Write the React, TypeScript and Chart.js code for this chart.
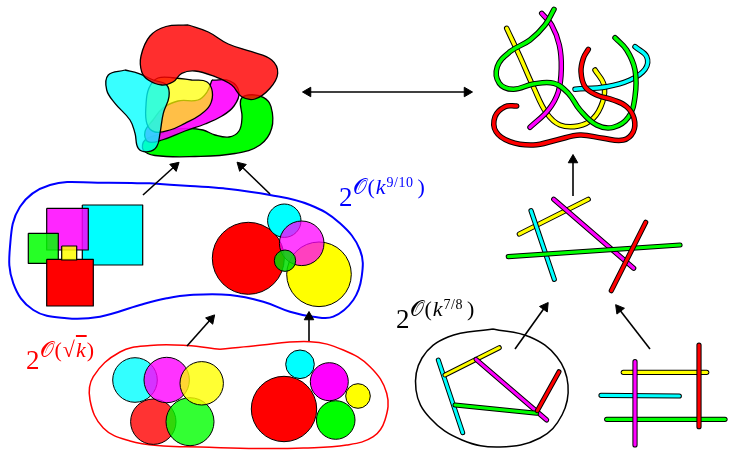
import React, { useEffect, useRef } from "react";
import { Chart, registerables } from "chart.js";
Chart.register(...registerables);

type P = [number, number];

// ---------- top-left blobs ----------
const blobGreen: P[] = [[168,130],[161.7,133.3],[145,140],[143.3,150],[155,155.5],[195,156.5],[235,153.5],[260,145],[271.7,128.3],[271,106.7],[263.3,97.3],[248.3,95],[240.7,100],[242,117],[239,131],[229,137],[215,135],[203,130],[188.3,128.3]];
const blobMagenta: P[] = [[212,80],[230,81],[239,92],[234,106],[222,116],[205,124],[185,131],[162,140],[148,141.7],[145,131.7],[153,120],[163,108],[178,101],[198,100],[207,92]];
const blobYellow: P[] = [[191.7,80],[206.7,81.7],[212.3,91.7],[210,105],[200,115],[185,123.3],[170,130],[155,132],[147,124],[146,105],[149,88],[158,78],[175,78]];
const blobCyan: P[] = [[125,70],[138.3,73.3],[153.3,80],[166.7,85],[169,96.7],[163.3,113.3],[160,133.3],[156.7,146.7],[148.3,151.7],[138.3,148.3],[135,133.3],[130,120],[115,103.3],[106.7,90],[108.3,75]];
const blobRed: P[] = [[188.3,25],[208.3,32],[228.3,44],[251.7,51.7],[271.7,60],[277.7,73.3],[270,88.3],[255,99],[241.7,96.7],[231.7,85],[215,76.7],[195,71],[181.7,73.3],[173.3,81.7],[161.7,85],[148.3,80],[141.7,71.7],[141,56],[150,36],[166,26.5]];

// ---------- top-right tubes ----------
const tubeYellow: P[] = [[506.7,28.3],[520,56.7],[533.3,86.7],[546.7,113.3],[560,125],[578.3,126],[593.3,118.3],[602.7,101.7],[604,85],[595,70]];
const tubeMagenta: P[] = [[541.7,13.3],[551.7,25],[559.3,45],[561.3,68.3],[558.3,91.7],[548.3,110],[530,127.3]];
const tubeCyan: P[] = [[575,89.3],[606.7,86.7],[630,80],[645,69.3],[646.7,56.7],[635,46.7]];
const tubeGreen: P[] = [[554,9.3],[545,25],[530,40],[510,51.7],[497.3,66.7],[499.3,83.3],[513.3,89.3],[533.3,84],[554,83.3],[568.3,93.3],[580,110],[596.7,125],[613.3,127.3],[628.3,117.3],[635,96.7],[635,70],[626.7,50],[615,37.7]];
const tubeRed: P[] = [[516.7,106],[505,106.7],[495,116.7],[496,131.7],[510,141.7],[533.3,145],[556.7,140],[580,135],[603.3,138.3],[623.3,140],[633.3,131.7],[634,118.3],[626.7,106.7],[613.3,100],[596.7,95],[585,86.7],[581,71.7],[583.3,58.3],[588.3,49.3]];

// ---------- regions ----------
const blueRegion: P[] = [[150,183.3],[190,186],[223.3,188.3],[270,195],[310,205],[340,223.3],[360,250],[361.7,276.7],[353.3,300],[333.3,316.7],[313.3,316.7],[290,311.7],[263.3,301.7],[230,295],[190,295],[166.7,298.3],[140,305],[100,316.7],[66.7,318.3],[33.3,310],[13.3,283.3],[10,246.7],[20,206.7],[50,185],[100,182.7]];
const redRegion: P[] = [[220,349.3],[253.3,346],[310,341.7],[343.3,350],[370,366.7],[386.7,393.3],[385,420],[373.3,436.7],[346.7,445],[303.3,448],[256.7,448.5],[200,447],[163.3,446],[130,441],[103.3,428],[90,400],[93.3,376.7],[120,352],[150,345.5],[186.7,345.5]];
const ellipseRegion: P[] = [[493,329],[530,337],[557,357],[568,385],[562,415],[540,438],[500,447],[462,440],[430,418],[416,390],[422,358],[448,337]];

// ---------- squares [x1, y1, x2, y2] ----------
const squareCyan = [82.3,205,142.7,265];
const squareMagenta = [46.7,208.3,88.3,250];
const squareGreen = [28.3,233.3,58.3,263.3];
const squareRed = [46.7,259.3,93.3,306];
const squareYellow = [61.7,246,76.7,260];

// ---------- circles [x, y, r] ----------
const discsBlue = [
  { c: [248.3,258.3,36], col: "#ff0000" },
  { c: [284.3,220.7,16.7], col: "#00ffff" },
  { c: [319,274.3,32.3], col: "#ffff00" },
  { c: [301.7,243.3,22.3], col: "rgba(255,0,255,0.75)" },
  { c: [285,260.7,10.7], col: "rgba(0,220,0,0.85)" },
];
const discsRedLeft = [
  { c: [153.3,421.7,22.7], col: "rgba(255,0,0,0.8)" },
  { c: [190,421.7,24], col: "rgba(0,255,0,0.8)" },
  { c: [135,380,22.3], col: "rgba(0,255,255,0.8)" },
  { c: [166.7,380,22.7], col: "rgba(255,0,255,0.8)" },
  { c: [201.7,383.3,21.7], col: "rgba(255,255,0,0.8)" },
];
const discsRedRight = [
  { c: [284,409,32.7], col: "#ff0000" },
  { c: [300,364.3,14.3], col: "#00ffff" },
  { c: [329.3,381.7,19], col: "#ff00ff" },
  { c: [358,396,12.3], col: "#ffff00" },
  { c: [335.7,420,19.3], col: "#00ff00" },
];

// ---------- sticks ----------
const sticksMid = [
  { s: [[519.3,234],[588.3,199.3]] as P[], col: "#ffff00" },
  { s: [[531,210.7],[554.3,279.3]] as P[], col: "#00ffff" },
  { s: [[553.7,199.3],[633.7,268.3]] as P[], col: "#ff00ff" },
  { s: [[508.3,256.7],[680,245]] as P[], col: "#00ff00" },
  { s: [[645.7,222.3],[611.3,290.7]] as P[], col: "#ff0000" },
];
const sticksEllipse = [
  { s: [[438.3,360],[462.7,432.7]] as P[], col: "#00ffff" },
  { s: [[445,375],[499.3,347.7]] as P[], col: "#ffff00" },
  { s: [[476,359.3],[546.7,420]] as P[], col: "#ff00ff" },
  { s: [[455,405],[536.7,413.3]] as P[], col: "#00ff00" },
  { s: [[537.3,410.7],[559,371.7]] as P[], col: "#ff0000" },
];
const sticksGrid = [
  { s: [[623.3,372.3],[706.7,372.3]] as P[], col: "#ffff00" },
  { s: [[601,395.3],[679.3,396]] as P[], col: "#00ffff" },
  { s: [[606.7,419.3],[725,419.3]] as P[], col: "#00ff00" },
  { s: [[635,361.7],[635,445]] as P[], col: "#ff00ff" },
  { s: [[699,345],[699,426.7]] as P[], col: "#ff0000" },
];

// ---------- arrows ----------
const arrows: { from: P; to: P; both?: boolean }[] = [
  { from: [308, 92], to: [467, 92], both: true },
  { from: [143, 195], to: [175, 166] },
  { from: [270, 194], to: [241, 166] },
  { from: [187, 346], to: [211, 319] },
  { from: [309, 341], to: [309, 317] },
  { from: [573, 196], to: [573, 160] },
  { from: [515, 349], to: [545, 307] },
  { from: [650, 349], to: [619, 309] },
];

const pts = (a: P[]) => a.map(([x, y]) => ({ x, y }));

function blob(points: P[], fill: string | null, border = "#000", bw = 1.3, tension = 0.4, close = true) {
  const data = close ? [...points, points[0]] : points;
  return {
    type: "line",
    data: pts(data),
    fill: fill ? "shape" : false,
    backgroundColor: fill || "transparent",
    borderColor: border,
    borderWidth: bw,
    tension,
    pointRadius: 0,
    borderJoinStyle: "round",
    clip: false,
  };
}
function rect(r: number[], fill: string) {
  const [x1, y1, x2, y2] = r;
  return blob([[x1, y1], [x2, y1], [x2, y2], [x1, y2]], fill, "#000", 1.2, 0, true);
}
function tube(points: P[], col: string, w: number, tension = 0.4) {
  const base = { type: "line", data: pts(points), fill: false, pointRadius: 0, tension, borderCapStyle: "round", borderJoinStyle: "round", clip: false };
  return [
    { ...base, borderColor: "#000", borderWidth: w + 2 },
    { ...base, borderColor: col, borderWidth: w },
  ];
}
function disc(c: number[], col: string) {
  return { type: "bubble", data: [{ x: c[0], y: c[1], r: c[2] }], backgroundColor: col, borderColor: "#000", borderWidth: 1, hoverRadius: 0, clip: false };
}

export default function App() {
  const ref = useRef<HTMLCanvasElement>(null);
  useEffect(() => {
    document.body.style.margin = "0";
    const ds: any[] = [];
    // top-left blobs
    ds.push(blob(blobGreen, "#00ff00"));
    ds.push(blob(blobMagenta, "rgba(255,0,255,0.9)"));
    ds.push(blob(blobYellow, "rgba(255,255,0,0.72)"));
    ds.push(blob(blobCyan, "rgba(0,255,255,0.78)"));
    ds.push(blob(blobRed, "rgba(255,0,0,0.82)"));
    // tubes
    ds.push(...tube(tubeYellow, "#ffff00", 3.5));
    ds.push(...tube(tubeMagenta, "#ff00ff", 3.5));
    ds.push(...tube(tubeCyan, "#00ffff", 3.5));
    ds.push(...tube(tubeGreen, "#00ff00", 3.5));
    ds.push(...tube(tubeRed, "#ff0000", 3.5));
    // blue region
    ds.push(blob(blueRegion, null, "#0000ff", 2));
    ds.push(rect(squareCyan, "#00ffff"));
    ds.push(rect(squareMagenta, "rgba(255,0,255,0.85)"));
    ds.push(rect(squareGreen, "rgba(0,255,0,0.85)"));
    ds.push(rect(squareRed, "#ff0000"));
    ds.push(rect(squareYellow, "rgba(255,255,0,0.85)"));
    discsBlue.forEach((d) => ds.push(disc(d.c, d.col)));
    // red region
    ds.push(blob(redRegion, null, "#ff0000", 1.5));
    discsRedLeft.forEach((d) => ds.push(disc(d.c, d.col)));
    discsRedRight.forEach((d) => ds.push(disc(d.c, d.col)));
    // sticks
    sticksMid.forEach((s) => ds.push(...tube(s.s, s.col, 3.2, 0)));
    ds.push(blob(ellipseRegion, null, "#000", 1.5));
    sticksEllipse.forEach((s) => ds.push(...tube(s.s, s.col, 3, 0)));
    sticksGrid.forEach((s) => ds.push(...tube(s.s, s.col, 3.2, 0)));
    // arrows
    arrows.forEach((a) => ds.push({ type: "line", data: pts([a.from, a.to]), borderColor: "#000", borderWidth: 1.6, pointRadius: 0, fill: false, tension: 0, clip: false }));
    const heads: { x: number; y: number; rot: number }[] = [];
    arrows.forEach((a) => {
      const dx = a.to[0] - a.from[0], dy = a.to[1] - a.from[1];
      heads.push({ x: a.to[0], y: a.to[1], rot: (Math.atan2(dx, -dy) * 180) / Math.PI });
      if (a.both) heads.push({ x: a.from[0], y: a.from[1], rot: (Math.atan2(-dx, dy) * 180) / Math.PI });
    });
    ds.push({
      type: "scatter",
      data: heads.map((h) => ({ x: h.x, y: h.y })),
      pointStyle: "triangle",
      pointRadius: 5.5,
      pointRotation: heads.map((h) => h.rot),
      backgroundColor: "#000",
      borderColor: "#000",
      borderWidth: 1,
      clip: false,
    });
    ds.forEach((d, i) => (d.order = -i));

    const chart = new Chart(ref.current!, {
      type: "scatter",
      data: { datasets: ds },
      options: {
        animation: false,
        responsive: false,
        devicePixelRatio: 1,
        layout: { padding: 0, autoPadding: false },
        events: [],
        scales: {
          x: { type: "linear", min: 0, max: 735, display: false },
          y: { type: "linear", min: 0, max: 450, reverse: true, display: false },
        },
        plugins: { legend: { display: false }, tooltip: { enabled: false } },
      } as any,
    } as any);
    return () => chart.destroy();
  }, []);

  const font = '"Liberation Serif", "DejaVu Serif", serif';
  const sup = { fontSize: 22, position: "relative" as const, top: -12, letterSpacing: 1 };
  const sup2 = { fontSize: 14, position: "relative" as const, top: -7, letterSpacing: 0.5 };
  return (
    <div style={{ position: "fixed", left: 0, top: 0, width: 735, height: 450, background: "#fff" }}>
      <canvas ref={ref} width={735} height={450} style={{ display: "block" }} />
      <div style={{ position: "absolute", left: 339, top: 184, color: "#0000ff", fontFamily: font, lineHeight: 1, whiteSpace: "nowrap" }}>
        <span style={{ fontSize: 27 }}>2</span>
        <span style={sup}>
          𝒪(<i>k</i><span style={sup2}>9/10</span><span style={{ marginLeft: 4 }}>)</span>
        </span>
      </div>
      <div style={{ position: "absolute", left: 396, top: 306, color: "#000", fontFamily: font, lineHeight: 1, whiteSpace: "nowrap" }}>
        <span style={{ fontSize: 27 }}>2</span>
        <span style={sup}>
          𝒪(<i>k</i><span style={sup2}>7/8</span><span style={{ marginLeft: 4 }}>)</span>
        </span>
      </div>
      <div style={{ position: "absolute", left: 26, top: 347, color: "#ff0000", fontFamily: font, lineHeight: 1, whiteSpace: "nowrap" }}>
        <span style={{ fontSize: 27 }}>2</span>
        <span style={sup}>
          𝒪(√<span style={{ textDecoration: "overline" }}><i>k</i></span>)
        </span>
      </div>
    </div>
  );
}
